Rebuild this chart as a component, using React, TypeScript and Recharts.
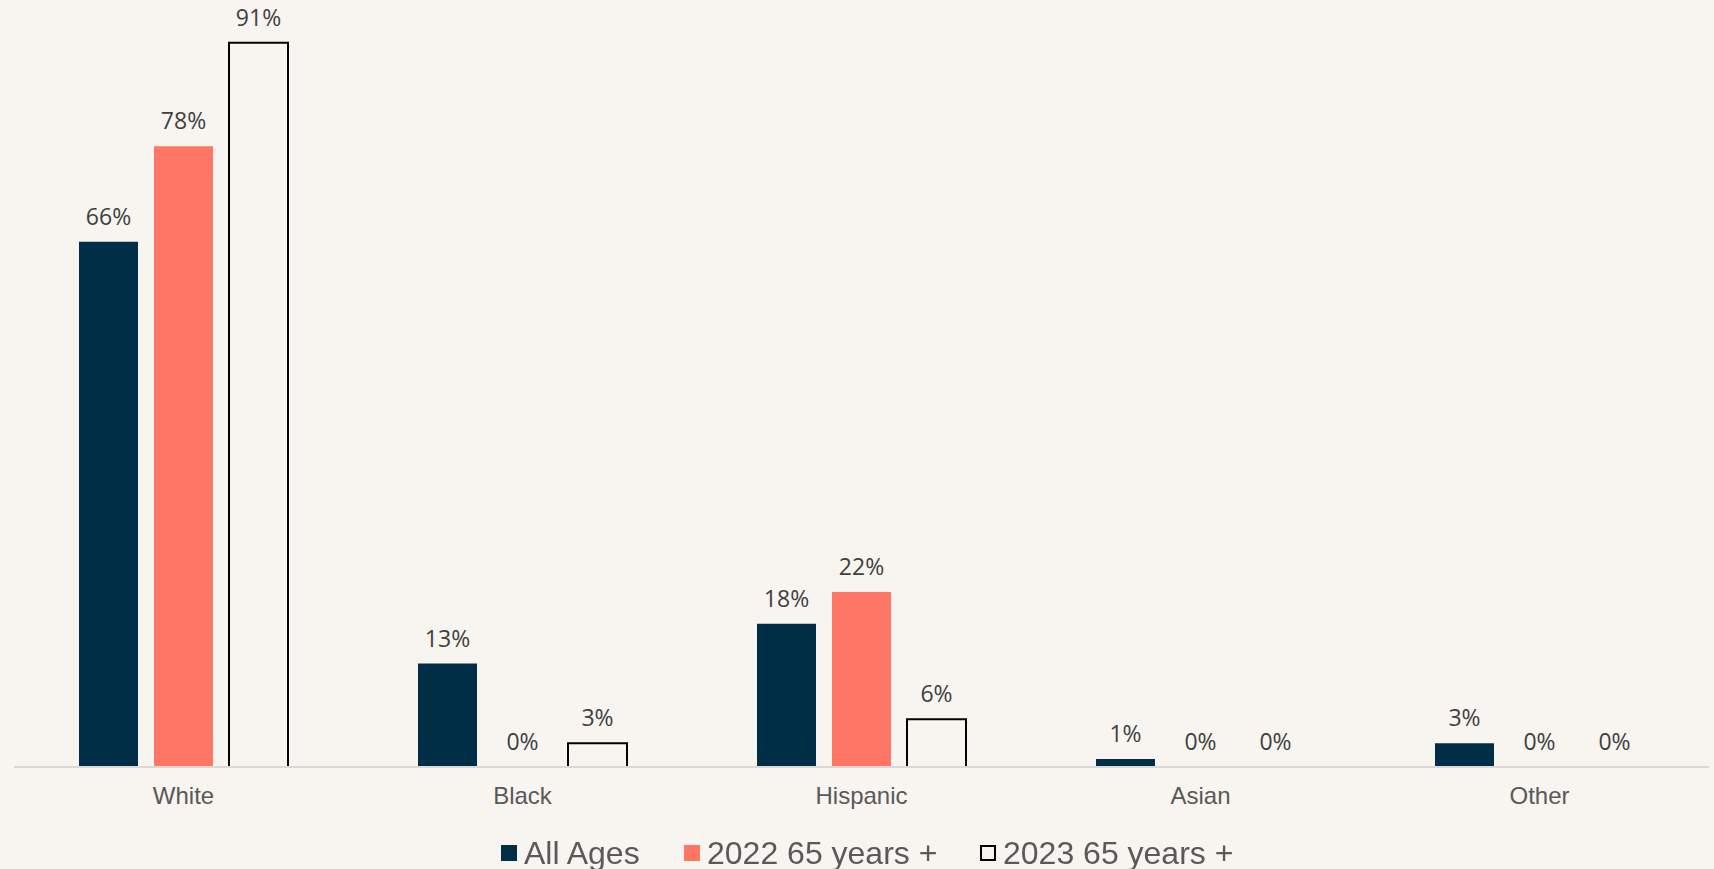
import React from 'react';
import { BarChart, Bar, XAxis, YAxis, Legend, LabelList, Rectangle } from 'recharts';

const categories = ['White', 'Black', 'Hispanic', 'Asian', 'Other'];
const allAges = [66, 13, 18, 1, 3];
const y2022 = [78, 0, 22, 0, 0];
const y2023 = [91, 3, 6, 0, 0];
const seriesNames = ['All Ages', '2022 65 years +', '2023 65 years +'];

const BG = '#F8F5F0';
const NAVY = '#012E47';
const CORAL = '#FF7664';

const data = categories.map((c, i) => ({
  name: c,
  allAges: allAges[i],
  y2022: y2022[i],
  y2023: y2023[i],
}));

const labelStyle = {
  fill: '#404040',
  fontSize: 23,
  fontFamily: '"Open Sans", sans-serif',
};

const fmt = (v: any) => `${v}%`;

// keeps zero-value bars invisible while still letting their labels be drawn
const barShape = (props: any) => {
  if (!props || props.height == null || Math.abs(props.height) < 0.5) return <g />;
  return <Rectangle {...props} />;
};

const legendItems = [
  { name: seriesNames[0], fill: NAVY, stroke: 'none', width: 183 },
  { name: seriesNames[1], fill: CORAL, stroke: 'none', width: 296 },
  { name: seriesNames[2], fill: BG, stroke: '#000', width: 260 },
];

const renderLegend = () => (
  <div
    style={{
      height: 36,
      display: 'flex',
      alignItems: 'center',
      paddingLeft: 487,
      boxSizing: 'border-box',
      fontFamily: '"Liberation Sans", Arial, sans-serif',
      fontSize: 32,
      color: '#595959',
      lineHeight: '36px',
      whiteSpace: 'nowrap',
      position: 'relative',
      top: 2,
    }}
  >
    {legendItems.map((it) => (
      <div key={it.name} style={{ display: 'flex', alignItems: 'center', width: it.width }}>
        <div
          style={{
            width: 16,
            height: 16,
            background: it.fill,
            border: it.stroke === 'none' ? 'none' : `2px solid ${it.stroke}`,
            boxSizing: 'border-box',
            marginRight: 7,
            flexShrink: 0,
          }}
        />
        <span>{it.name}</span>
      </div>
    ))}
  </div>
);

export default function App() {
  return (
    <div style={{ position: 'fixed', left: 0, top: 0, width: 1714, height: 869, background: BG }}>
      <BarChart
        width={1714}
        height={869}
        data={data}
        margin={{ top: 11, right: 5, left: 14, bottom: 0 }}
        barSize={59}
        barGap={16}
      >
        <XAxis
          dataKey="name"
          height={66}
          tickLine={false}
          tickSize={10}
          tickMargin={10}
          axisLine={{ stroke: '#D9D9D9', strokeWidth: 2 }}
          tick={{ fill: '#595959', fontSize: 24, fontFamily: '"Liberation Sans", Arial, sans-serif' }}
        />
        <YAxis hide domain={[0, 95]} />
        <Legend verticalAlign="bottom" content={renderLegend} />
        <Bar dataKey="allAges" name={seriesNames[0]} fill={NAVY} minPointSize={0.01} shape={barShape} isAnimationActive={false}>
          <LabelList dataKey="allAges" position="top" offset={17} formatter={fmt} style={labelStyle} />
        </Bar>
        <Bar dataKey="y2022" name={seriesNames[1]} fill={CORAL} minPointSize={0.01} shape={barShape} isAnimationActive={false}>
          <LabelList dataKey="y2022" position="top" offset={17} formatter={fmt} style={labelStyle} />
        </Bar>
        <Bar dataKey="y2023" name={seriesNames[2]} fill={BG} stroke="#000" strokeWidth={2} minPointSize={0.01} shape={barShape} isAnimationActive={false}>
          <LabelList dataKey="y2023" position="top" offset={17} formatter={fmt} style={labelStyle} />
        </Bar>
      </BarChart>
    </div>
  );
}
